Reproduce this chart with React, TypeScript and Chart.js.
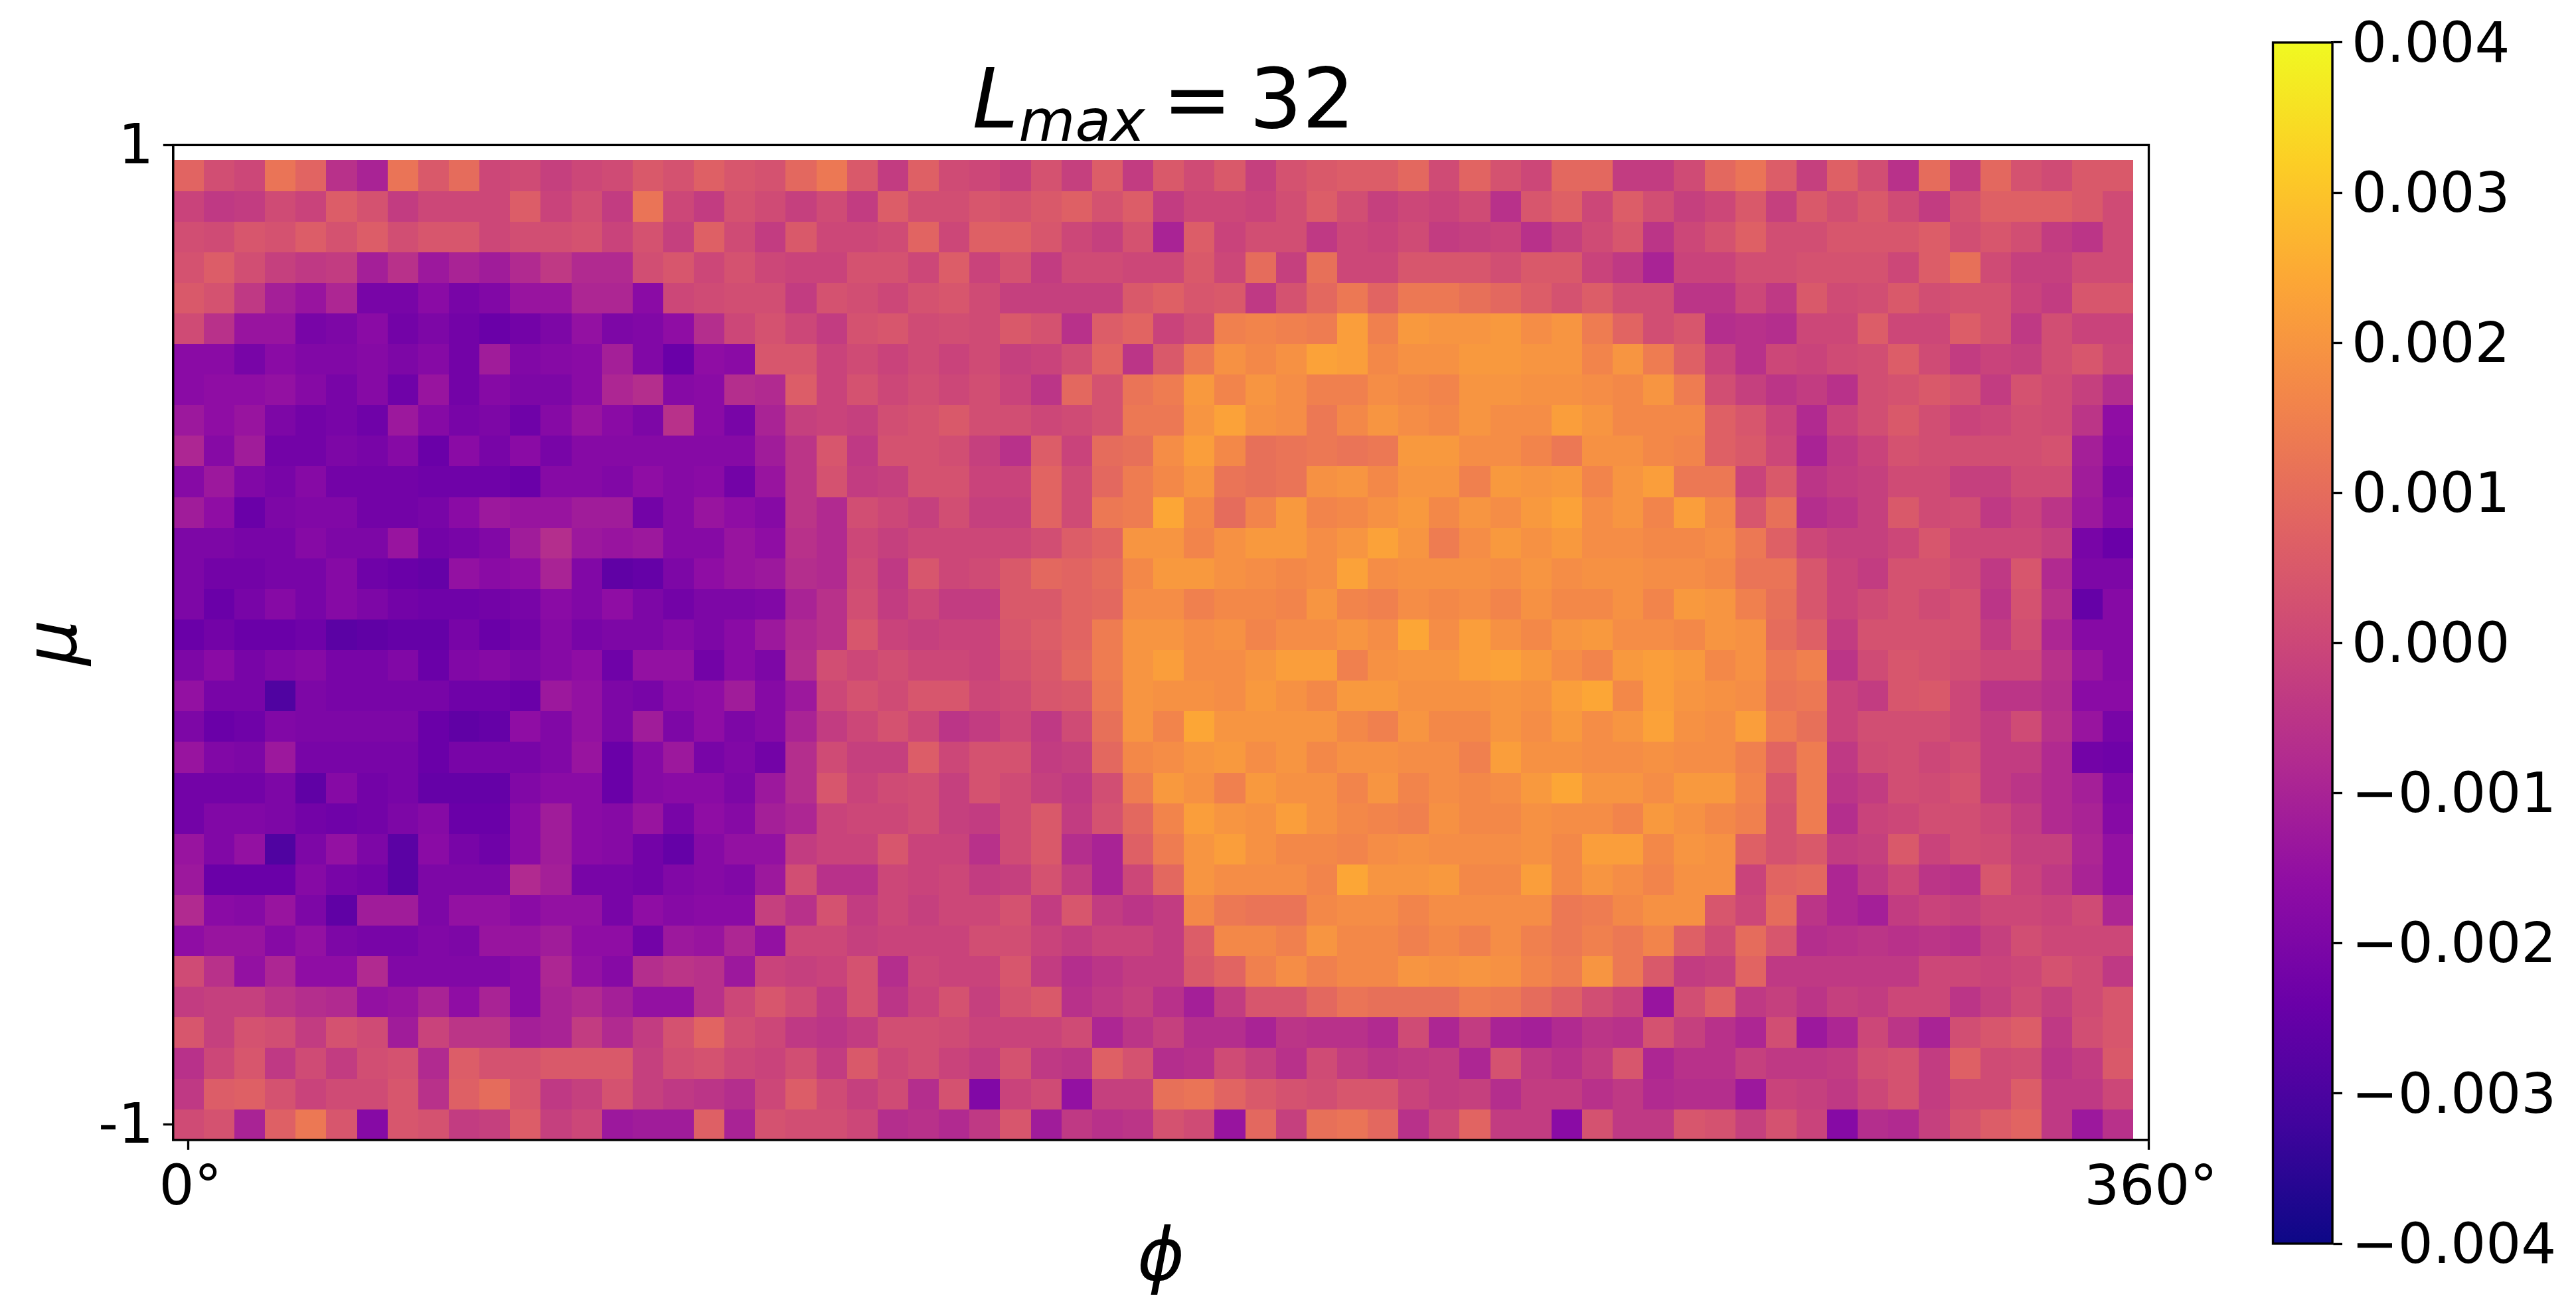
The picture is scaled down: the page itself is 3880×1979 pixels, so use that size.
import React, { useEffect, useRef } from "react";
import { Chart, ScatterController, registerables } from "chart.js";

// Cell values in units of 1e-4, top row of the picture first, 64 columns each.
const row00 = [8,2,0,12,8,-6,-10,12,5,10,0,1,-2,0,1,5,3,7,4,3,9, 13,5,-3,7,1,0,-2,3,-2,6,-3,5,1,5,-2,3,5,6,6,9,1, 8,3,0,9,9,-3,-3,1,9,12,6,-2,7,2,-6,10,-3,9,3,1,5,5];
const row01 = [-1,-4,-3,1,-1,6,3,-3,0,0,0,6,-1,2,-3,12,0,-3,3,1,-2, 1,-3,6,2,2,4,3,5,7,3,6,-3,0,0,-1,2,6,2,-2,0,-1, 1,-6,4,7,0,6,2,-2,0,5,-2,5,2,5,1,-3,3,7,7,7,5,1];
const row02 = [2,1,4,3,6,3,6,2,4,4,0,2,2,3,-1,3,-2,7,1,-3,5, 0,0,1,8,0,7,7,4,0,-2,3,-10,6,-1,2,2,-4,0,-1,1,-3, -2,-1,-6,-2,1,4,-5,0,3,7,2,2,4,4,4,6,2,4,2,-3,-5,1];
const row03 = [3,6,2,-2,-4,-3,-11,-6,-13,-10,-12,-8,-4,-8,-8,2,4,0,3,0,-1, -1,3,3,0,6,-1,3,-3,1,1,0,0,5,0,10,-2,11,0,0,4,4, 4,2,5,5,-1,-4,-10,-1,-1,2,2,3,3,3,0,6,11,1,-2,-2,1,1];
const row04 = [5,3,-4,-11,-14,-9,-21,-21,-17,-21,-19,-14,-14,-9,-9,-17,0,1,2,2,-3, 3,2,0,3,4,1,-2,-2,-2,-2,5,7,4,5,-4,3,9,13,8,13,13, 11,9,6,3,6,2,2,-5,-5,0,-4,5,1,2,5,2,3,3,-1,-3,4,4];
const row05 = [1,-6,-14,-14,-21,-20,-17,-22,-20,-22,-24,-22,-20,-15,-20,-19,-16,-7,0,3,0, -3,3,4,1,2,1,5,3,-6,6,8,-1,2,15,16,15,14,22,15,21,20, 20,21,18,20,14,8,2,4,-7,-6,-7,0,0,6,0,0,6,3,-4,2,-1,-1];
const row06 = [-17,-17,-21,-17,-19,-19,-18,-20,-18,-22,-12,-19,-18,-17,-11,-19,-24,-16,-17,4,4, -1,1,-1,1,-1,1,-2,-1,2,8,-5,5,13,19,17,19,23,22,17,19,19, 21,21,20,20,16,20,14,7,-1,-6,0,-1,1,2,6,1,-3,-1,-2,2,4,0];
const row07 = [-17,-16,-16,-15,-18,-21,-18,-23,-14,-22,-18,-20,-20,-17,-9,-7,-18,-17,-7,-8,6, -1,3,0,2,0,2,-1,-5,9,3,12,14,21,16,20,18,15,15,18,17,16, 20,20,19,19,18,17,20,14,2,-2,-5,-3,-6,2,3,5,3,-3,3,1,-2,-7];
const row08 = [-13,-16,-14,-20,-22,-21,-23,-13,-18,-21,-20,-23,-18,-14,-17,-20,-6,-17,-21,-10,-2, -1,-2,2,3,5,2,2,0,1,3,13,13,20,23,19,18,13,17,20,18,17, 20,18,18,22,20,17,17,17,7,4,-1,-8,-1,2,5,2,-1,0,2,1,-5,-16];
const row09 = [-9,-18,-12,-22,-22,-20,-21,-18,-24,-17,-21,-17,-21,-18,-18,-18,-18,-18,-18,-12,-5, 4,-4,3,3,2,-2,-6,6,-1,10,11,18,22,17,11,12,13,12,13,21,21, 18,18,16,13,19,19,17,16,7,5,0,-10,-4,-1,3,2,2,2,2,3,-11,-17];
const row10 = [-18,-13,-19,-21,-18,-22,-22,-22,-23,-23,-23,-24,-18,-18,-19,-16,-18,-17,-22,-14,-5, 3,-3,-2,3,3,-1,-1,8,1,9,14,17,20,12,11,12,19,20,17,20,20, 15,21,20,21,16,20,22,13,13,-1,5,-5,-3,-2,1,1,-2,-2,1,1,-12,-20];
const row11 = [-12,-16,-24,-20,-19,-19,-22,-22,-21,-17,-13,-14,-14,-12,-12,-22,-18,-14,-16,-18,-5, -8,2,0,-2,2,-2,-2,8,1,13,14,24,17,10,16,21,16,17,19,21,17, 20,18,21,23,18,20,16,22,17,4,11,-7,-5,-2,5,1,2,-4,-1,-5,-13,-18];
const row12 = [-20,-20,-21,-21,-18,-20,-20,-14,-22,-21,-19,-12,-7,-13,-14,-13,-18,-18,-14,-16,-6, -8,0,-2,0,0,0,0,2,6,8,20,20,16,19,21,21,18,20,23,20,14, 18,21,19,21,18,18,17,17,18,13,7,0,-2,-2,0,4,0,0,0,-2,-21,-24];
const row13 = [-20,-22,-22,-21,-21,-18,-23,-24,-25,-15,-17,-16,-10,-19,-26,-25,-20,-16,-14,-13,-7, -8,1,-4,4,0,1,5,9,8,10,17,21,21,19,18,17,18,23,18,19,19, 19,18,20,18,19,19,18,18,17,12,12,4,-1,-3,3,3,1,-4,4,-8,-20,-20];
const row14 = [-20,-24,-21,-18,-21,-18,-20,-22,-23,-23,-22,-21,-17,-19,-16,-20,-22,-20,-20,-19,-10, -6,2,-3,0,-3,-3,5,5,8,9,18,18,15,17,17,16,20,16,15,18,17, 18,16,19,17,17,19,16,21,20,15,11,4,-1,1,3,1,3,-5,3,-6,-25,-18];
const row15 = [-24,-22,-24,-24,-23,-27,-26,-25,-25,-21,-24,-22,-18,-21,-20,-20,-18,-20,-17,-13,-8, -6,4,-1,-2,-1,-1,4,6,8,14,20,20,18,19,16,18,18,20,18,24,18, 22,19,17,20,21,18,18,17,20,19,10,7,-3,3,3,3,3,-3,2,-9,-18,-18];
const row16 = [-20,-17,-21,-19,-18,-21,-21,-19,-24,-19,-18,-20,-18,-16,-23,-15,-15,-22,-17,-20,-7, 2,0,2,0,0,-1,3,5,9,14,20,22,18,18,20,22,22,15,19,20,20, 22,23,21,18,16,21,22,21,17,19,13,15,-5,1,4,3,2,0,0,-6,-14,-18];
const row17 = [-15,-21,-21,-29,-20,-21,-21,-21,-21,-23,-23,-24,-13,-15,-20,-21,-17,-16,-12,-18,-13, 0,3,1,4,4,0,1,4,5,13,20,19,19,18,21,19,17,21,21,19,19, 19,20,19,22,24,17,22,20,19,18,12,13,-1,-3,4,5,0,-5,-5,-7,-17,-17];
const row18 = [-20,-24,-23,-19,-20,-20,-20,-20,-24,-26,-25,-16,-19,-15,-20,-12,-20,-16,-20,-18,-10, -3,0,3,0,-5,-3,0,-4,1,11,20,16,24,20,20,20,20,17,15,20,17, 17,20,18,21,18,20,23,19,18,22,14,11,-1,2,2,2,0,-3,1,-6,-14,-21];
const row19 = [-14,-19,-20,-13,-21,-21,-21,-21,-24,-21,-21,-21,-19,-14,-24,-18,-13,-21,-19,-22,-7, 1,-2,-2,6,0,3,3,-3,-2,9,17,18,20,21,18,20,17,19,19,18,18, 15,22,19,19,18,18,19,18,18,15,8,14,-4,1,2,0,2,-3,-3,-8,-22,-23];
const row20 = [-22,-22,-22,-20,-26,-18,-22,-21,-25,-25,-25,-19,-17,-17,-24,-18,-17,-17,-20,-13,-7, 4,-1,1,2,-2,3,1,-2,-4,2,14,21,19,15,21,19,19,16,20,16,18, 17,18,21,24,20,20,18,21,21,16,4,14,-5,-3,2,1,3,-3,-5,-8,-11,-19];
const row21 = [-22,-19,-19,-20,-22,-23,-22,-20,-18,-24,-24,-17,-12,-17,-18,-14,-21,-16,-18,-11,-9, -1,0,0,2,-2,-3,1,5,-3,3,9,16,22,20,19,22,19,17,16,15,19, 17,17,19,18,18,16,21,19,17,15,3,14,-7,-1,0,2,2,0,-3,-8,-10,-18];
const row22 = [-14,-19,-15,-29,-20,-15,-20,-27,-17,-21,-23,-17,-12,-17,-18,-22,-25,-18,-15,-15,-3, -1,-1,4,-1,-1,-6,1,5,-7,-10,7,14,20,22,19,17,17,16,18,19,18, 18,18,19,17,22,22,17,20,19,7,3,5,-3,-2,5,-1,2,1,-2,-2,-9,-15];
const row23 = [-13,-24,-24,-24,-18,-21,-22,-27,-20,-20,-20,-8,-11,-21,-21,-22,-19,-18,-19,-13,2, -6,-6,0,-1,0,-3,-2,3,-3,-10,0,9,20,18,18,18,16,24,20,20,21, 17,17,22,17,20,18,16,19,19,-1,8,9,-9,-4,0,-5,-6,4,-1,-4,-10,-15];
const row24 = [-8,-17,-18,-14,-20,-26,-12,-12,-20,-15,-15,-17,-15,-15,-21,-16,-18,-17,-17,-2,-6, 3,-3,0,-2,0,0,3,-3,4,-3,-5,-3,17,13,12,12,17,18,18,16,18, 18,18,18,13,14,17,19,19,4,0,10,-5,-9,-11,-3,-1,-2,0,0,-1,1,-9];
const row25 = [-16,-14,-14,-18,-15,-20,-21,-21,-19,-20,-14,-14,-12,-16,-16,-22,-13,-14,-9,-15,0, 0,-2,-1,-1,-1,2,2,-1,-3,-1,-1,-3,6,17,17,15,20,17,17,15,17, 15,18,15,13,15,13,16,7,1,10,4,-7,-6,-5,-6,-5,-6,-2,2,0,0,0];
const row26 = [1,-6,-15,-9,-16,-16,-8,-19,-19,-19,-19,-17,-9,-15,-18,-7,-5,-6,-13,-1,-2, -1,3,-7,0,-1,-1,4,-3,-7,-5,-3,-3,5,8,15,18,15,17,17,20,19, 20,19,16,14,20,13,5,-3,-2,8,-4,-4,-4,-4,-4,0,0,-1,0,3,1,-4];
const row27 = [-3,-2,-2,-5,-7,-8,-15,-14,-10,-16,-10,-17,-10,-8,-11,-15,-15,-6,0,4,1, -4,3,-5,-1,3,-2,3,5,-6,-4,-2,-6,-11,-3,4,4,9,12,11,11,11, 14,13,10,7,2,-1,-14,2,7,-4,-2,-5,-2,-3,0,0,-5,-2,1,-2,1,4];
const row28 = [4,-2,3,2,-3,3,1,-12,-1,-5,-5,-11,-10,-3,-8,-3,3,8,2,0,-4, -5,-3,2,2,1,-1,-1,-1,1,-9,-5,-2,-7,-7,-10,-5,-6,-6,-8,1,-9, -3,-10,-11,-8,-5,-6,3,-2,-6,-9,2,-13,-9,0,-5,-10,2,4,6,-4,2,4];
const row29 = [-6,0,4,-4,1,-3,2,3,-8,6,3,3,5,5,5,-2,2,3,0,-1,2, -3,5,0,2,-1,-3,3,-4,-5,7,3,-7,-6,1,-2,-6,1,-3,-5,-4,-3, -9,3,-4,-6,-3,4,-9,-6,-6,-2,-4,-4,-3,2,3,-3,7,1,2,-5,-3,5];
const row30 = [-4,6,7,3,-1,1,1,4,-6,7,10,4,-4,-2,3,-2,-4,-5,-7,0,6, 1,-2,1,-7,3,-19,-1,1,-15,-2,-2,11,12,8,5,3,2,4,4,-1,-3, -2,-7,-3,-3,-6,-4,-8,-7,-7,-13,-1,-2,-4,0,3,-3,1,1,6,-4,-4,0];
const row31 = [1,3,-10,7,13,4,-18,4,3,-3,-2,6,-2,0,-13,-12,-12,7,-10,3,2, 2,0,-7,-6,-8,-4,4,-12,-4,-6,-5,3,1,-14,9,-2,11,12,9,-6,0, 8,-3,-3,-17,3,-4,-4,4,3,-2,3,-1,-18,-7,-8,-2,3,6,8,-4,-13,-6];

const rows = [row00,row01,row02,row03,row04,row05,row06,row07,row08,row09,row10,row11,row12,row13,row14,row15,row16,row17,row18,row19,row20,row21,row22,row23,row24,row25,row26,row27,row28,row29,row30,row31];

const valueUnit = 1e-4;
const colourMin = -0.004;
const colourMax = 0.004;

// matplotlib "plasma", eleven evenly spaced stops.
const plasmaStops = [
  [13, 8, 135], [65, 4, 157], [106, 0, 168], [143, 13, 164], [177, 42, 144], [204, 71, 120],
  [225, 100, 98], [242, 132, 75], [252, 166, 54], [252, 206, 37], [240, 249, 33],
];

const phiTicks = [0, 64];
const phiTickLabels = ["0°", "360°"];
const muTicks = [0, 32];
const muTickLabels = ["-1", "1"];
const colourTicks = [-0.004, -0.003, -0.002, -0.001, 0, 0.001, 0.002, 0.003, 0.004];
const colourTickLabels = ["−0.004", "−0.003", "−0.002", "−0.001", "0.000", "0.001", "0.002", "0.003", "0.004"];

const FONT = "'DejaVu Sans', sans-serif";
const TICK_PX = 83.33;
const TITLE_PX = 125;
const AXIS_LABEL_PX = 108;
const LINE = 3.33;

function plasma(t: number): string {
  const c = Math.min(1, Math.max(0, t)) * (plasmaStops.length - 1);
  const i = Math.min(plasmaStops.length - 2, Math.floor(c));
  const f = c - i;
  const a = plasmaStops[i];
  const b = plasmaStops[i + 1];
  return `rgb(${Math.round(a[0] + (b[0] - a[0]) * f)},${Math.round(a[1] + (b[1] - a[1]) * f)},${Math.round(a[2] + (b[2] - a[2]) * f)})`;
}

const cells = rows.flatMap((row, r) =>
  row.map((v, c) => ({ x: c, y: rows.length - 1 - r, v: v * valueUnit }))
);

// A scatter controller whose marks are crisp unit cells placed through the chart's scales.
class CellController extends (ScatterController as any) {
  static id = "cells";
  static defaults = { ...(ScatterController as any).defaults };
  static overrides = (ScatterController as any).overrides;
  draw() {
    const self = this as any;
    const { ctx, scales } = self.chart;
    const { x, y } = scales;
    for (const p of self.getDataset().data) {
      const x0 = Math.round(x.getPixelForValue(p.x - 0.5));
      const x1 = Math.round(x.getPixelForValue(p.x + 0.5));
      const y0 = Math.round(y.getPixelForValue(p.y + 0.5));
      const y1 = Math.round(y.getPixelForValue(p.y - 0.5));
      ctx.fillStyle = plasma((p.v - colourMin) / (colourMax - colourMin));
      ctx.fillRect(x0, y0, x1 - x0, y1 - y0);
    }
  }
}

Chart.register(...registerables, CellController as any);

const framePlugin = {
  id: "frame",
  afterDraw(chart: any) {
    const { ctx, chartArea: a } = chart;
    ctx.save();
    ctx.strokeStyle = "#000";
    ctx.lineWidth = LINE;
    ctx.strokeRect(a.left, a.top, a.right - a.left, a.bottom - a.top);
    ctx.restore();
  },
};

const titlePlugin = {
  id: "mathTitle",
  afterDraw(chart: any) {
    const { ctx, chartArea: a } = chart;
    const baseline = 192;
    const big = `italic ${TITLE_PX}px ${FONT}`;
    const small = `italic ${TITLE_PX * 0.7}px ${FONT}`;
    const roman = `${TITLE_PX}px ${FONT}`;
    const gap = 26;
    ctx.save();
    ctx.fillStyle = "#000";
    ctx.textBaseline = "alphabetic";
    ctx.textAlign = "left";
    ctx.font = big;
    const wL = ctx.measureText("L").width;
    ctx.font = small;
    const wM = ctx.measureText("max").width;
    ctx.font = roman;
    const wE = ctx.measureText("=").width;
    const wN = ctx.measureText("32").width;
    let x = (a.left + a.right) / 2 - (wL + wM + gap + wE + gap + wN) / 2 + 4;
    ctx.font = big;
    ctx.fillText("L", x, baseline);
    x += wL;
    ctx.font = small;
    ctx.fillText("max", x, baseline + 20);
    x += wM + gap;
    ctx.font = roman;
    ctx.fillText("=", x, baseline);
    x += wE + gap;
    ctx.fillText("32", x, baseline);
    ctx.restore();
  },
};

export default function App() {
  const mapRef = useRef<HTMLCanvasElement>(null);
  const barRef = useRef<HTMLCanvasElement>(null);

  useEffect(() => {
    const axisCommon = {
      grid: { drawOnChartArea: false, drawTicks: true, tickLength: 15, tickWidth: LINE, tickColor: "#000" },
      border: { display: true, color: "#000", width: LINE },
    };
    const map = new Chart(mapRef.current!, {
      type: "cells",
      data: { datasets: [{ data: cells, pointRadius: 0 } as any] },
      options: {
        responsive: false,
        animation: false,
        devicePixelRatio: 1,
        events: [],
        layout: { padding: { left: 0, top: 218.4, right: 643.5, bottom: 0 } },
        plugins: { legend: { display: false }, tooltip: { enabled: false }, title: { display: false } },
        scales: {
          x: {
            type: "linear",
            min: -0.5,
            max: 64,
            ...axisCommon,
            title: {
              display: true,
              text: "ϕ",
              color: "#000",
              font: { family: FONT, style: "italic", size: AXIS_LABEL_PX, lineHeight: 1 },
              padding: { top: 0, bottom: 26 },
            },
            ticks: {
              color: "#000",
              font: { family: FONT, size: TICK_PX },
              padding: 11,
              labelOffset: 3,
              maxRotation: 0,
              autoSkip: false,
              callback: (_v: any, i: number) => phiTickLabels[i],
            },
            afterBuildTicks: (s: any) => {
              s.ticks = phiTicks.map((value) => ({ value }));
            },
            afterFit: (s: any) => {
              s.height = 1979 - 1716.8;
            },
          },
          y: {
            type: "linear",
            min: -0.5,
            max: 32,
            ...axisCommon,
            title: {
              display: true,
              text: "μ",
              color: "#000",
              font: { family: FONT, style: "italic", size: AXIS_LABEL_PX, lineHeight: 1 },
              padding: { top: 32, bottom: 0 },
            },
            ticks: {
              color: "#000",
              font: { family: FONT, size: TICK_PX },
              padding: 14.6,
              labelOffset: 6,
              autoSkip: false,
              callback: (_v: any, i: number) => muTickLabels[i],
            },
            afterBuildTicks: (s: any) => {
              s.ticks = muTicks.map((value) => ({ value }));
            },
            afterFit: (s: any) => {
              s.width = 260.8;
            },
          },
        },
      },
      plugins: [framePlugin, titlePlugin],
    } as any);

    const bar = new Chart(barRef.current!, {
      type: "bar",
      data: {
        labels: ["colour"],
        datasets: [
          {
            data: [[colourMin, colourMax]],
            barPercentage: 1,
            categoryPercentage: 1,
            borderWidth: 0,
            backgroundColor: (c: any) => {
              const a = c.chart.chartArea;
              if (!a) return "#000";
              const g = c.chart.ctx.createLinearGradient(0, a.bottom, 0, a.top);
              plasmaStops.forEach((_s, i) => {
                const t = i / (plasmaStops.length - 1);
                g.addColorStop(t, plasma(t));
              });
              return g;
            },
          } as any,
        ],
      },
      options: {
        responsive: false,
        animation: false,
        devicePixelRatio: 1,
        events: [],
        layout: { padding: { left: 123.5, top: 62, right: 0, bottom: 106 } },
        plugins: { legend: { display: false }, tooltip: { enabled: false }, title: { display: false } },
        scales: {
          x: { display: false },
          y: {
            type: "linear",
            position: "right",
            min: colourMin,
            max: colourMax,
            ...axisCommon,
            ticks: {
              color: "#000",
              font: { family: FONT, size: TICK_PX },
              padding: 14,
              labelOffset: 7,
              autoSkip: false,
              callback: (_v: any, i: number) => colourTickLabels[i],
            },
            afterBuildTicks: (s: any) => {
              s.ticks = colourTicks.map((value) => ({ value }));
            },
            afterFit: (s: any) => {
              s.width = 367;
            },
          },
        },
      },
      plugins: [framePlugin],
    } as any);

    return () => {
      map.destroy();
      bar.destroy();
    };
  }, []);

  return (
    <div>
      <canvas ref={mapRef} width={3880} height={1979} style={{ position: "absolute", left: 0, top: 0 }} />
      <canvas ref={barRef} width={580} height={1979} style={{ position: "absolute", left: 3300, top: 0 }} />
    </div>
  );
}
